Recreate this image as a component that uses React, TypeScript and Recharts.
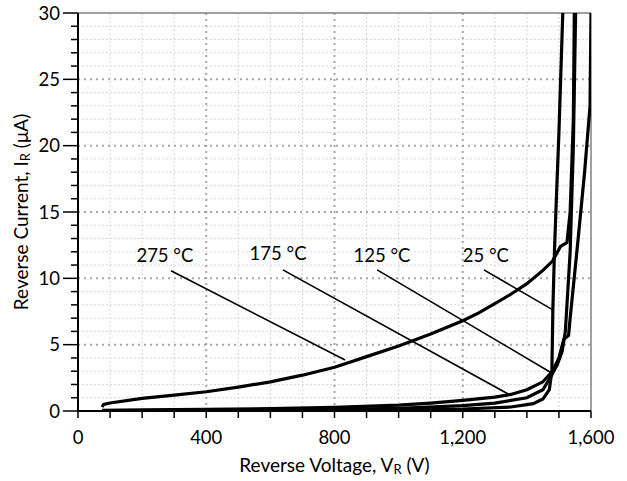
import React from "react"
import {
  LineChart,
  Line,
  XAxis,
  YAxis,
  ReferenceLine,
  ReferenceDot,
} from "recharts"

// curves (V in volts, I in µA)
const v275 = [75, 80, 100, 200, 300, 400, 500, 600, 700, 800, 850, 900, 1000, 1100, 1200, 1250, 1300, 1350, 1400, 1450, 1480, 1505, 1525, 1535, 1545, 1548]
const i275 = [0.3, 0.5, 0.6, 0.95, 1.2, 1.45, 1.8, 2.2, 2.7, 3.3, 3.7, 4.1, 4.9, 5.8, 6.8, 7.4, 8.1, 8.8, 9.6, 10.6, 11.3, 12.4, 12.7, 15, 22, 30]

const v175 = [75, 200, 400, 600, 800, 1000, 1100, 1200, 1300, 1350, 1400, 1450, 1480, 1500, 1515, 1530, 1535, 1560, 1580, 1597, 1600]
const i175 = [0.05, 0.08, 0.12, 0.18, 0.28, 0.45, 0.6, 0.8, 1.05, 1.25, 1.6, 2.2, 3.0, 4.0, 5.4, 5.7, 7, 13, 18, 23, 30]

const v125 = [75, 400, 800, 1000, 1200, 1300, 1400, 1450, 1475, 1495, 1510, 1520, 1535, 1545, 1552]
const i125 = [0, 0.05, 0.12, 0.2, 0.4, 0.6, 1.0, 1.6, 2.6, 3.5, 4.5, 6, 12, 20, 30]

const v25 = [75, 400, 800, 1200, 1350, 1420, 1450, 1470, 1478, 1481, 1486, 1492, 1500, 1512]
const i25 = [0, 0.02, 0.05, 0.15, 0.3, 0.55, 0.9, 1.6, 3, 7.6, 12, 16, 21, 30]

// annotation text and leader lines
const tempLabels = ["275 °C", "175 °C", "125 °C", "25 °C"]
const labelV = [271, 624, 948, 1272]
const labelI = [11.7, 11.9, 11.7, 11.7]
const leaderV = [[290, 833], [639, 1347], [933, 1472], [1266, 1481]]
const leaderI = [[10.57, 3.85], [10.64, 1.21], [10.64, 2.94], [10.64, 7.62]]

const xTicks = [0, 100, 200, 300, 400, 500, 600, 700, 800, 900, 1000, 1100, 1200, 1300, 1400, 1500, 1600]
const yTicks = Array.from({ length: 31 }, (_, k) => k)
const xMajor = [400, 800, 1200]
const xMinor = [100, 200, 300, 500, 600, 700, 900, 1000, 1100, 1300, 1400, 1500]
const yMajor = [5, 10, 15, 20, 25]
const yMinor = yTicks.filter((t) => t % 5 !== 0)

const FONT = "Lato, 'Open Sans', sans-serif"

const toPoints = (vs: number[], is: number[]) => vs.map((v, k) => ({ v, i: is[k] }))

const curves = [
  toPoints(v275, i275),
  toPoints(v175, i175),
  toPoints(v125, i125),
  toPoints(v25, i25),
]
const leaders = leaderV.map((vs, k) => toPoints(vs, leaderI[k]))

function XTick(props: any) {
  const { x, y, payload } = props
  const major = payload.value % 400 === 0
  return (
    <g>
      <line x1={x} x2={x} y1={y} y2={y + 7} stroke="#000" strokeWidth={1.5} />
      {major && (
        <text x={x} y={y + 33} textAnchor="middle" fontSize={18.5} fontFamily={FONT} fill="#000">
          {payload.value.toLocaleString("en-US")}
        </text>
      )}
    </g>
  )
}

function YTick(props: any) {
  const { x, y, payload } = props
  const major = payload.value % 5 === 0
  return (
    <g>
      <line x1={x - (major ? 15 : 7)} x2={x} y1={y} y2={y} stroke="#000" strokeWidth={1.5} />
      {major && (
        <text x={x - 18} y={y + 6.5} textAnchor="end" fontSize={18.5} fontFamily={FONT} fill="#000">
          {payload.value}
        </text>
      )}
    </g>
  )
}

function XTitle(props: any) {
  const vb = props.viewBox
  return (
    <text x={vb.x + vb.width / 2} y={vb.y + 61} textAnchor="middle" fontSize={19} fontFamily={FONT} fill="#000">
      Reverse Voltage, V<tspan fontSize={13} dy={2}>R</tspan>
      <tspan dy={-2}> (V)</tspan>
    </text>
  )
}

function YTitle(props: any) {
  const vb = props.viewBox
  const cx = vb.x + 28
  const cy = vb.y + vb.height / 2
  return (
    <text x={cx} y={cy} transform={`rotate(-90, ${cx}, ${cy})`} textAnchor="middle" fontSize={19} fontFamily={FONT} fill="#000">
      Reverse Current, I<tspan fontSize={13} dy={2}>R</tspan>
      <tspan dy={-2}> (μA)</tspan>
    </text>
  )
}

export default function App() {
  return (
    <div style={{ position: "absolute", left: 0, top: 0, background: "#fff" }}>
      <LineChart width={627} height={481} margin={{ top: 13, right: 36, bottom: 0, left: 0 }}>
        <XAxis
          type="number"
          dataKey="v"
          domain={[0, 1600]}
          ticks={xTicks}
          interval={0}
          height={70}
          tickSize={0}
          tickMargin={0}
          tick={<XTick />}
          stroke="#000"
          strokeWidth={2}
          allowDataOverflow
          label={<XTitle />}
        />
        <YAxis
          type="number"
          dataKey="i"
          domain={[0, 30]}
          ticks={yTicks}
          interval={0}
          width={78}
          tickSize={0}
          tickMargin={0}
          tick={<YTick />}
          stroke="#000"
          strokeWidth={2}
          allowDataOverflow
          label={<YTitle />}
        />

        {/* grid */}
        {xMinor.map((v) => (
          <ReferenceLine key={"xm" + v} x={v} stroke="#c8c8c8" strokeWidth={1} strokeDasharray="1.5 2.5" />
        ))}
        {yMinor.map((v) => (
          <ReferenceLine key={"ym" + v} y={v} stroke="#c8c8c8" strokeWidth={1} strokeDasharray="1.5 2.5" />
        ))}
        {xMajor.map((v) => (
          <ReferenceLine key={"xM" + v} x={v} stroke="#a6a6a6" strokeWidth={2} strokeDasharray="2 4" />
        ))}
        {yMajor.map((v) => (
          <ReferenceLine key={"yM" + v} y={v} stroke="#a6a6a6" strokeWidth={2} strokeDasharray="2 4" />
        ))}
        <ReferenceLine y={30} stroke="#808080" strokeWidth={1.5} />
        <ReferenceLine x={1600} stroke="#808080" strokeWidth={1.5} />

        {leaders.map((d, k) => (
          <Line key={"ld" + k} data={d} dataKey="i" stroke="#000" strokeWidth={1.6} dot={false} isAnimationActive={false} />
        ))}
        {curves.map((d, k) => (
          <Line key={"c" + k} data={d} dataKey="i" type="linear" stroke="#000" strokeWidth={3.2} dot={false} isAnimationActive={false} />
        ))}

        {tempLabels.map((t, k) => (
          <ReferenceDot
            key={t}
            x={labelV[k]}
            y={labelI[k]}
            r={0}
            fill="none"
            stroke="none"
            label={{ value: t, position: "center", fontSize: 18.5, fontFamily: FONT, fill: "#000" }}
          />
        ))}
      </LineChart>
    </div>
  )
}
